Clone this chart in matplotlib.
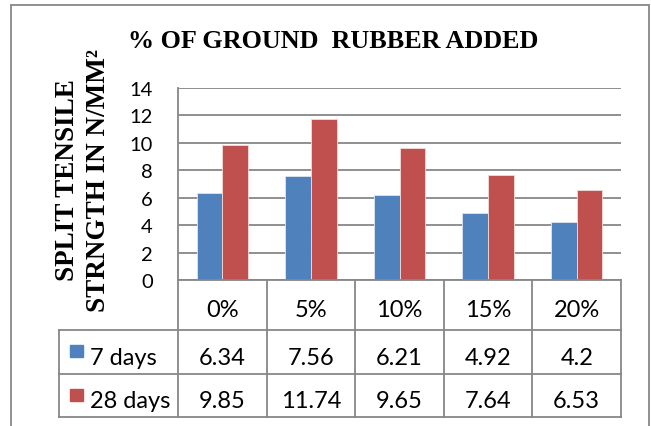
import matplotlib
matplotlib.use("Agg")
import matplotlib.pyplot as plt
import numpy as np

categories = ["0%", "5%", "10%", "15%", "20%"]
series_names = ["7 days", "28 days"]
days7 = [6.34, 7.56, 6.21, 4.92, 4.2]
days28 = [9.85, 11.74, 9.65, 7.64, 6.53]
yticks = [0, 2, 4, 6, 8, 10, 12, 14]

colors = ["#4F81BD", "#C0504D"]
grid_color = "#878787"
W, H = 651, 427

fig = plt.figure(figsize=(W / 100, H / 100), dpi=100)


def fx(x):
    return x / W


def fy(y):
    return 1 - y / H


# plot area in pixel coordinates
pl, pr, pt, pb = 178, 621, 89, 281
ax = fig.add_axes([fx(pl), fy(pb), fx(pr - pl), fy(pt) - fy(pb)])

x = np.arange(len(categories))
bw = 0.29
ax.bar(x - bw / 2, days7, bw, color=colors[0], edgecolor="#dce6f2", linewidth=0.6, zorder=3)
ax.bar(x + bw / 2, days28, bw, color=colors[1], edgecolor="#f2dcdb", linewidth=0.6, zorder=3)

ax.set_xlim(-0.5, len(categories) - 0.5)
ax.set_ylim(0, 14)
ax.set_yticks(yticks)
ax.set_yticklabels([str(t) for t in yticks], fontfamily="Lato", fontsize=14.5)
ax.tick_params(axis="y", length=0, pad=18)
ax.set_xticks([])
ax.yaxis.grid(True, color=grid_color, linewidth=1.3, zorder=0)
for s in ["top", "right", "bottom"]:
    ax.spines[s].set_visible(False)
ax.spines["left"].set_color(grid_color)
ax.spines["left"].set_linewidth(1.3)
ax.set_axisbelow(True)

# outer chart frame
frame_kw = dict(color="#8f8f8f", linewidth=1.4, transform=fig.transFigure)
fig.add_artist(plt.Line2D([fx(11), fx(11)], [fy(6), fy(427)], **frame_kw))
fig.add_artist(plt.Line2D([fx(11), fx(649)], [fy(6), fy(6)], **frame_kw))
fig.add_artist(plt.Line2D([fx(649), fx(649)], [fy(6), fy(427)], **frame_kw))

# data table below the plot
line_kw = dict(color=grid_color, linewidth=1.3, transform=fig.transFigure)
col_edges = [pl + (pr - pl) * i / len(categories) for i in range(len(categories) + 1)]
row_edges = [pb, 331, 375, 418]
baselines = [317, 365, 408]
tl = 59

# horizontal lines
fig.add_artist(plt.Line2D([fx(pl), fx(pr)], [fy(pb), fy(pb)], **line_kw))
for ry in row_edges[1:]:
    fig.add_artist(plt.Line2D([fx(tl), fx(pr)], [fy(ry), fy(ry)], **line_kw))
# vertical lines
for cx in col_edges:
    fig.add_artist(plt.Line2D([fx(cx), fx(cx)], [fy(pb), fy(row_edges[-1])], **line_kw))
fig.add_artist(plt.Line2D([fx(tl), fx(tl)], [fy(row_edges[1]), fy(row_edges[-1])], **line_kw))

txt_kw = dict(fontfamily="Lato", fontsize=17, ha="center", va="baseline")
for i, c in enumerate(categories):
    cx = (col_edges[i] + col_edges[i + 1]) / 2
    fig.text(fx(cx), fy(baselines[0]), c, **txt_kw)

for r, (name, vals, col) in enumerate(zip(series_names, [days7, days28], colors)):
    by = baselines[r + 1]
    cy = (row_edges[r + 1] + row_edges[r + 2]) / 2
    for i, v in enumerate(vals):
        cx = (col_edges[i] + col_edges[i + 1]) / 2
        fig.text(fx(cx), fy(by), f"{v:g}", **txt_kw)
    # legend key
    fig.add_artist(plt.Rectangle((fx(70), fy(cy + 5)), fx(13), fy(0) - fy(12),
                                 color=col, transform=fig.transFigure))
    fig.text(fx(90), fy(by), name, fontfamily="Lato", fontsize=17,
             ha="left", va="baseline")

# titles
fig.text(fx(333), fy(41), "% OF GROUND  RUBBER ADDED", fontfamily="Liberation Serif",
         fontweight="bold", fontsize=18.8, ha="center", va="center")
fig.text(fx(83), fy(180), "SPLIT TENSILE\nSTRNGTH IN N/MM\u00b2", fontfamily="Liberation Serif",
         fontweight="bold", fontsize=19.5, ha="center", va="center", rotation=90,
         multialignment="center", linespacing=1.35)

fig.savefig("out.png", dpi=100)
